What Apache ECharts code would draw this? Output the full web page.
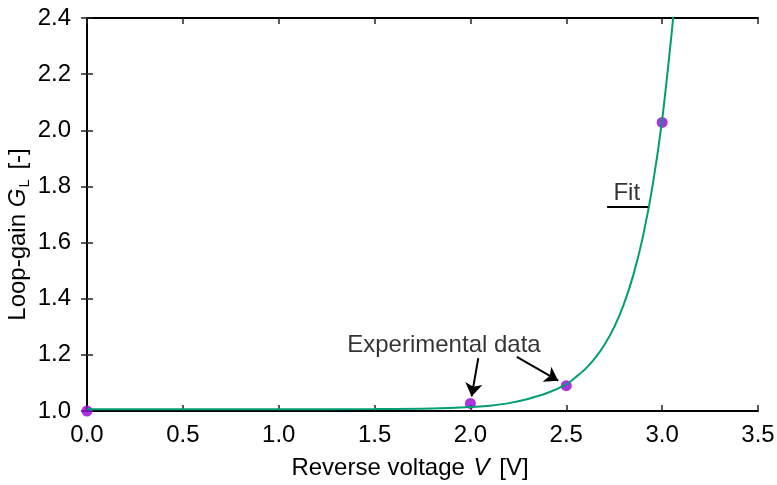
<!DOCTYPE html>
<html>
<head>
<meta charset="utf-8">
<script src="https://cdn.jsdelivr.net/npm/echarts@6/dist/echarts.min.js"></script>
<style>html,body{margin:0;padding:0;background:#fff}#c{width:777px;height:485px}</style>
</head>
<body>
<div id="c"></div>
<script>
// Experimental data
const expV = [0.0, 2.0, 2.5, 3.0];
const expG = [1.0, 1.027, 1.09, 2.028];
// Fit curve
const fitV = [0.0, 0.5, 1.0, 1.5, 1.8, 2.0, 2.1, 2.2, 2.3, 2.4, 2.5, 2.55, 2.6, 2.65, 2.7, 2.75, 2.8, 2.85, 2.9, 2.95, 3.0, 3.05, 3.07];
const fitG = [1.006, 1.006, 1.006, 1.007, 1.009, 1.014, 1.019, 1.028, 1.043, 1.064, 1.095, 1.121, 1.150, 1.188, 1.237, 1.299, 1.380, 1.485, 1.622, 1.802, 2.037, 2.349, 2.50];
// Tick labels
const xTicks = ['0.0', '0.5', '1.0', '1.5', '2.0', '2.5', '3.0', '3.5'];
const yTicks = ['1.0', '1.2', '1.4', '1.6', '1.8', '2.0', '2.2', '2.4'];
// Annotations (data units)
const annExpText = [1.862, 1.235];
const annArrows = [[[2.041, 1.188], [2.006, 1.052]], [[2.242, 1.193], [2.458, 1.108]]];
const annFitText = [2.72, 1.777];
const annFitLine = [[2.713, 1.728], [2.927, 1.728]];

const xMin = +xTicks[0], xMax = +xTicks[xTicks.length - 1], xInt = +xTicks[1] - +xTicks[0];
const yMin = +yTicks[0], yMax = +yTicks[yTicks.length - 1], yInt = +(+yTicks[1] - +yTicks[0]).toFixed(2);

const FONT = 'Liberation Sans, Arial, Helvetica, sans-serif';
const txt = (extra) => Object.assign({color: '#000', fontSize: 24, fontFamily: FONT, textBorderWidth: 0}, extra || {});
const axisBase = {
  axisLine: {show: true, lineStyle: {color: '#000', width: 2}},
  axisTick: {show: true, inside: true, length: 6, lineStyle: {color: '#222', width: 1.5}},
  splitLine: {show: false},
  nameMoveOverlap: false
};
const chart = echarts.init(document.getElementById('c'));
chart.setOption({
  animation: false,
  backgroundColor: '#fff',
  textStyle: {fontFamily: FONT},
  grid: {left: 87, right: 19, top: 18, bottom: 74, containLabel: false, outerBoundsMode: 'none'},
  xAxis: [
    Object.assign({}, axisBase, {
      type: 'value', min: xMin, max: xMax, interval: xInt, position: 'bottom',
      axisLabel: txt({margin: 12, formatter: v => v.toFixed(1)}),
      name: '{n|Reverse voltage }{i|V}{n| [V]}', nameLocation: 'middle', nameGap: 45,
      nameTextStyle: txt({padding: [0, 25, 0, 0],
        rich: {n: txt(), i: txt({fontStyle: 'italic', padding: [0, 3, 0, 2]})}})
    }),
    Object.assign({}, axisBase, {
      type: 'value', min: xMin, max: xMax, interval: xInt, position: 'top',
      axisLabel: {show: false}
    })
  ],
  yAxis: [
    Object.assign({}, axisBase, {
      type: 'value', min: yMin, max: yMax, interval: yInt, position: 'left',
      axisLabel: txt({margin: 16, formatter: v => v.toFixed(1)}),
      name: '{n|Loop-gain }{i|G}{sub|L}{n| [-]}', nameLocation: 'middle', nameGap: 55,
      nameTextStyle: txt({lineHeight: 28, padding: [0, 40, 0, 0],
        rich: {
          n: txt({lineHeight: 28}),
          i: txt({fontStyle: 'italic', lineHeight: 28}),
          sub: txt({fontSize: 15, lineHeight: 14, verticalAlign: 'bottom', padding: [0, 3, 0, 1]})
        }})
    }),
    Object.assign({}, axisBase, {
      type: 'value', min: yMin, max: yMax, interval: yInt, position: 'right',
      axisLabel: {show: false}
    })
  ],
  series: [
    {
      type: 'scatter', name: 'Experimental data', xAxisIndex: 0, yAxisIndex: 0,
      data: expV.map((v, i) => [v, expG[i]]),
      symbol: 'circle', symbolSize: 11, itemStyle: {color: '#9400d3'}, z: 3,
      clip: false, silent: true
    },
    {
      type: 'line', name: 'Fit', xAxisIndex: 0, yAxisIndex: 0,
      data: fitV.map((v, i) => [v, fitG[i]]),
      smooth: 0.3, showSymbol: false, symbol: 'none',
      lineStyle: {color: '#009e73', width: 2}, z: 4, clip: true, silent: true
    },
    {
      type: 'scatter', xAxisIndex: 0, yAxisIndex: 0, symbolSize: 0, silent: true, z: 5,
      itemStyle: {color: '#000'},
      data: [
        {value: annExpText, label: txt({show: true, formatter: 'Experimental data', position: 'inside', textBorderColor: 'transparent'})},
        {value: annFitText, label: txt({show: true, formatter: 'Fit', position: 'insideLeft', align: 'left', textBorderColor: 'transparent'})}
      ],
      markLine: {
        silent: true, animation: false, symbol: ['none', 'arrow'], symbolSize: 13,
        label: {show: false},
        lineStyle: {color: '#000', width: 2, type: 'solid'},
        data: annArrows.map(a => [{coord: a[0]}, {coord: a[1]}])
      }
    },
    {
      type: 'line', xAxisIndex: 0, yAxisIndex: 0, data: [], silent: true,
      markLine: {
        silent: true, animation: false, symbol: ['none', 'none'],
        label: {show: false},
        lineStyle: {color: '#000', width: 2, type: 'solid'},
        data: [[{coord: annFitLine[0]}, {coord: annFitLine[1]}]]
      }
    }
  ]
});
</script>
</body>
</html>
